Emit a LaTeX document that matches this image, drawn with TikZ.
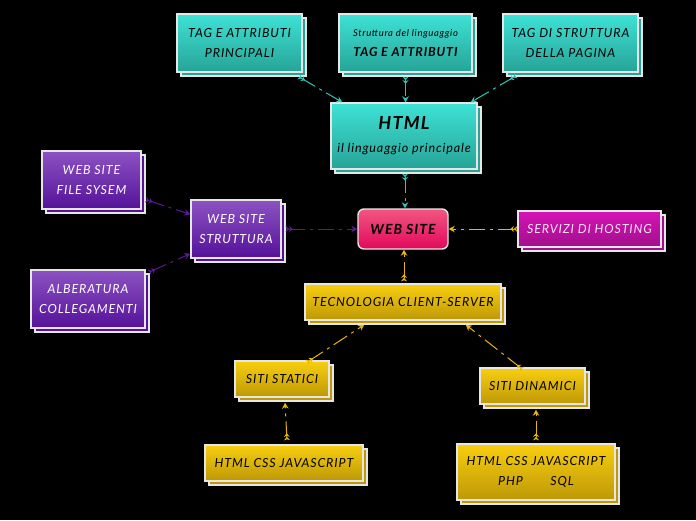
\documentclass[tikz,border=0pt]{standalone}
\usepackage{fontspec}
\setmainfont{Lato}[LetterSpace=7]
\usetikzlibrary{arrows.meta}
\definecolor{tealT}{HTML}{3EE2D6}
\definecolor{tealB}{HTML}{27A397}
\definecolor{tealL}{HTML}{2EC8BB}
\definecolor{purT}{HTML}{8C52C2}
\definecolor{purB}{HTML}{55129A}
\definecolor{purL}{HTML}{5A1A95}
\definecolor{pinkT}{HTML}{F25682}
\definecolor{pinkB}{HTML}{E2085A}
\definecolor{magT}{HTML}{D612B6}
\definecolor{magB}{HTML}{A0108C}
\definecolor{yelT}{HTML}{F8CE10}
\definecolor{yelB}{HTML}{BE9806}
\definecolor{yelL}{HTML}{E8B800}
\definecolor{edge}{HTML}{E6E6E6}
\tikzset{
  x=1pt, y=-1pt,
  boxbase/.style={draw=edge, line width=1.4pt, minimum width=#1, inner sep=2pt, align=center, font=\itshape\fontsize{12.5}{20}\selectfont},
  tealbox/.style={boxbase=#1, top color=tealT, bottom color=tealB, text=black,
     preaction={draw=edge, fill=tealB, transform canvas={shift={(4pt,-4pt)}}}},
  purbox/.style={boxbase=#1, top color=purT, bottom color=purB, text=white,
     preaction={draw=edge, fill=purB, transform canvas={shift={(4pt,-4pt)}}}},
  magbox/.style={boxbase=#1, top color=magT, bottom color=magB, text=white!88!magT,
     preaction={draw=edge, fill=magB, transform canvas={shift={(4pt,-4pt)}}}},
  yelbox/.style={boxbase=#1, top color=yelT, bottom color=yelB, text=black,
     preaction={draw=edge, fill=yelB, transform canvas={shift={(4pt,-4pt)}}}},
  conn/.style={draw=#1, line width=1pt, dash pattern=on 16pt off 5pt on 3pt off 5pt,
     {Stealth[reversed,length=3.5pt,width=6pt]Stealth[reversed,length=3.5pt,width=6pt]}-{Stealth[length=6pt,width=6.5pt]}},
}
\begin{document}
\begin{tikzpicture}
\useasboundingbox[fill=black] (0,0) rectangle (696,520);
% nodes
\node[tealbox=125pt, minimum height=58pt] (tag1) at (239.5,43) {TAG E ATTRIBUTI\\PRINCIPALI};
\node[tealbox=133pt, minimum height=58pt] (strl) at (405.5,43) {{\fontsize{9.5}{11}\selectfont Struttura del linguaggio}\\{\bfseries TAG E ATTRIBUTI}};
\node[tealbox=135pt, minimum height=58pt] (tagdi) at (570.5,43) {TAG DI STRUTTURA\\DELLA PAGINA};
\node[tealbox=146pt, minimum height=66pt] (html) at (404,136) {{\bfseries\fontsize{18}{20}\selectfont HTML}\\[3pt]il linguaggio principale};
\node[purbox=99pt, minimum height=58pt] (fsys) at (91.5,180) {WEB SITE\\FILE SYSEM};
\node[purbox=90pt, minimum height=58pt] (strut) at (236,229) {WEB SITE\\STRUTTURA};
\node[purbox=114pt, minimum height=58pt] (alber) at (88,299) {ALBERATURA\\COLLEGAMENTI};
\node[draw=edge, line width=1.4pt, rounded corners=6pt, top color=pinkT, bottom color=pinkB,
      minimum width=90pt, minimum height=40pt, font=\bfseries\itshape\fontsize{14}{16}\selectfont] (web) at (403,229) {WEB SITE};
\node[magbox=143pt, minimum height=36pt] (host) at (589.5,229) {SERVIZI DI HOSTING};
\node[yelbox=196pt, minimum height=36pt] (tec) at (403,302) {TECNOLOGIA CLIENT-SERVER};
\node[yelbox=94pt, minimum height=36pt] (stat) at (282,379) {SITI STATICI};
\node[yelbox=105pt, minimum height=36pt] (dina) at (532.5,386) {SITI DINAMICI};
\node[yelbox=158pt, minimum height=36pt] (hcj) at (284,463) {HTML CSS JAVASCRIPT};
\node[yelbox=158pt, minimum height=56pt] (php) at (536,472) {HTML CSS JAVASCRIPT\\PHP\hspace{2.2em}SQL};
% connectors
\draw[conn=tealL] ([xshift=-4pt,yshift=-4pt]tag1.south east) -- ([xshift=12pt]html.north west);
\draw[conn=tealL] ([yshift=-4pt]strl.south) -- (html.north -| strl.south);
\draw[conn=tealL] ([xshift=14pt,yshift=-3pt]tagdi.south west) -- ([xshift=-7pt]html.north east);
\draw[conn=tealL] ([xshift=1pt,yshift=-4pt]html.south) -- ([xshift=2pt]web.north);
\draw[conn=purL] ([xshift=4pt,yshift=10pt]fsys.south east) -- ([yshift=-15pt]strut.north west);
\draw[conn=purL] ([xshift=3pt,yshift=-3pt]alber.north east) -- ([yshift=5pt]strut.south west);
\draw[conn=purL] ([xshift=4pt]strut.east) -- (web.west);
\draw[conn=yelL] (host.west) -- (web.east);
\draw[conn=yelL] ([xshift=1pt,yshift=2pt]tec.north) -- ([xshift=1pt]web.south);
\draw[conn=yelL] ([xshift=25pt,yshift=-2pt]stat.north) -- ([xshift=60pt,yshift=-4pt]tec.south west);
\draw[conn=yelL] ([xshift=-10pt,yshift=-2pt]dina.north) -- ([xshift=-36pt,yshift=-4pt]tec.south east);
\draw[conn=yelL] ([xshift=3pt,yshift=4pt]hcj.north) -- ([xshift=3pt,yshift=-5pt]stat.south);
\draw[conn=yelL] ([yshift=3pt]php.north) -- ([xshift=3.5pt,yshift=-5pt]dina.south);
\end{tikzpicture}
\end{document}
